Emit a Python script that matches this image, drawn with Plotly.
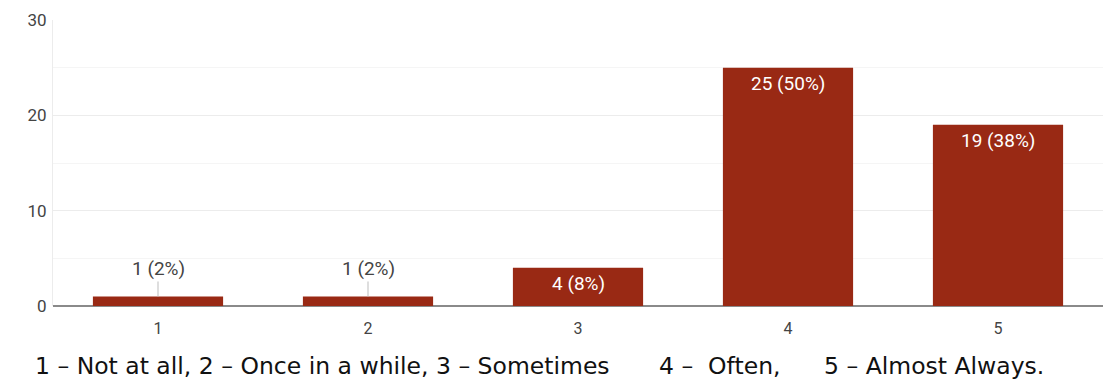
import plotly.graph_objects as go

# Survey response counts on a 1-5 frequency scale
categories = ["1", "2", "3", "4", "5"]
counts = [1, 1, 4, 25, 19]
percents = [2, 2, 8, 50, 38]
y_ticks = [0, 10, 20, 30]
caption_parts = [
    "1 – Not at all, 2 – Once in a while, 3 – Sometimes",
    "4 –  Often,",
    "5 – Almost Always.",
]

BAR_COLOR = "#992914"
W, H = 1103, 381
M_L, M_R, M_T, M_B = 53, 0, 20, 75
plot_w = W - M_L - M_R

fig = go.Figure(
    go.Bar(
        x=categories,
        y=counts,
        marker=dict(color=BAR_COLOR, line=dict(width=0)),
        width=0.62,
        hoverinfo="skip",
    )
)

# Value labels: inside the bar when it is tall enough, otherwise above with a leader line
annotations = []
for i, (n, p) in enumerate(zip(counts, percents)):
    label = f"{n} ({p}%)"
    if n >= 4:
        annotations.append(dict(
            x=i, y=n, xref="x", yref="y", text=label, showarrow=False,
            yanchor="top", yshift=-2,
            font=dict(family="Roboto, Arial, sans-serif", size=19, color="#ffffff"),
        ))
    else:
        annotations.append(dict(
            x=i, y=n, xref="x", yref="y", text=label, showarrow=True,
            ax=0, ay=-28, arrowhead=0, arrowwidth=1, arrowcolor="#bdbdbd",
            standoff=0, startstandoff=0,
            font=dict(family="Roboto, Arial, sans-serif", size=19, color="#444444"),
        ))

# Scale legend written under the axis
caption_x = [33, 657, 822]
for txt, px in zip(caption_parts, caption_x):
    annotations.append(dict(
        x=(px - M_L) / plot_w, y=-(366 - (H - M_B)) / (H - M_T - M_B),
        xref="paper", yref="paper", xanchor="left", yanchor="middle",
        text=txt, showarrow=False,
        font=dict(family="DejaVu Sans, Arial, sans-serif", size=23.5, color="#111111"),
    ))

fig.update_layout(
    width=W, height=H,
    margin=dict(l=M_L, r=M_R, t=M_T, b=M_B, pad=0),
    plot_bgcolor="#ffffff", paper_bgcolor="#ffffff",
    showlegend=False,
    bargap=0.38,
    annotations=annotations,
    xaxis=dict(
        type="category", range=[-0.5, 4.5],
        showgrid=False, showline=False, zeroline=False,
        ticks="outside", ticklen=8, tickcolor="rgba(0,0,0,0)",
        tickfont=dict(family="Roboto, Arial, sans-serif", size=16, color="#444444"),
        fixedrange=True,
    ),
    yaxis=dict(
        range=[0, 30], tickvals=y_ticks,
        showgrid=True, gridcolor="#ececec", gridwidth=1,
        minor=dict(dtick=5, showgrid=True, gridcolor="#f5f5f5", gridwidth=1),
        zeroline=True, zerolinecolor="#8a8a8a", zerolinewidth=2,
        showline=True, linecolor="#ececec", linewidth=1,
        ticks="", ticklabelstandoff=2,
        tickfont=dict(family="Roboto, Arial, sans-serif", size=17, color="#444444"),
        fixedrange=True,
    ),
)

fig.write_html("out.html")
